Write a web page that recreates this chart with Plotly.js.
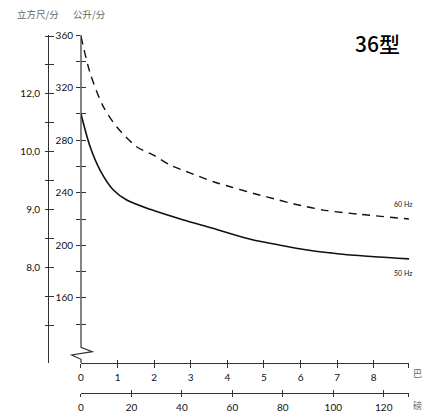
<!DOCTYPE html>
<html>
<head>
<meta charset="utf-8">
<script src="https://cdn.plot.ly/plotly-3.0.1.min.js"></script>
<style>html,body{margin:0;padding:0;background:#fff;}#chart{width:440px;height:418px;}</style>
</head>
<body>
<div id="chart"></div>
<script>
// ---- data ----
const bar60 = [0, 0.25, 0.61, 0.98, 1.52, 1.98, 2.44, 2.99, 3.62, 4.08, 4.77, 5.41, 5.82, 6.73, 7.64, 8.96];
const lpm60 = [359, 331, 305.5, 290, 275, 268.7, 261, 255, 248.4, 244.6, 239.1, 234.5, 231.5, 226.4, 223.6, 220.1];
const bar50 = [0, 0.25, 0.52, 0.885, 1.25, 1.89, 2.8, 3.6, 4.63, 5.41, 6.18, 6.82, 7.37, 9.0];
const lpm50 = [300, 275, 257.3, 242.1, 234.5, 227.4, 219.3, 213, 204.6, 200.3, 196.5, 194.3, 192.7, 189.7];

// tick labels
const barTicks = [0, 1, 2, 3, 4, 5, 6, 7, 8];
const barLabels = ['0', '1', '2', '3', '4', '5', '6', '7', '8'];
const psiTicks = [0, 20, 40, 60, 80, 100, 120, 130];
const psiLabels = ['0', '20', '40', '60', '80', '100', '120', ''];
const lpmTicks = [140, 160, 180, 200, 220, 240, 260, 280, 300, 320, 340, 360];
const lpmLabels = ['', '160', '', '200', '', '240', '', '280', '', '320', '', '360'];
const cfmTicks = [0, 1, 2, 3, 4, 5, 6, 7, 8, 9, 10];
const cfmLabels = ['', '', '8,0', '', '9,0', '', '10,0', '', '12,0', '', ''];

const psiMax = 130;
const barMax = psiMax / 14.5038;
const lpmRange = [110.56, 360];
const cfmRange = [-1.315, 10.035];

const axColor = '#333';
const xDom = [0.0914, 1];
const yDom = [0.0838, 1];

const ghost = (xa, ya, xv, yv) => ({x: [xv], y: [yv], xaxis: xa, yaxis: ya, mode: 'markers',
  marker: {opacity: 0, size: 1}, hoverinfo: 'skip', showlegend: false});

const traces = [
  {x: bar60, y: lpm60, xaxis: 'x', yaxis: 'y', mode: 'lines', cliponaxis: false,
   line: {color: '#111', width: 1.4, dash: '8px,6px', shape: 'spline', smoothing: 0.8}, hoverinfo: 'skip'},
  {x: bar50, y: lpm50, xaxis: 'x', yaxis: 'y', mode: 'lines', cliponaxis: false,
   line: {color: '#111', width: 1.6, shape: 'spline', smoothing: 0.8}, hoverinfo: 'skip'},
  // invisible anchors so that the overlaying axes are drawn
  ghost('x2', 'y2', psiTicks[0], cfmTicks[0]),
  ghost('x3', 'y3', barTicks[0], lpmTicks[0]),
  ghost('x4', 'y4', psiTicks[0], cfmTicks[0])
];

const baseAx = {showgrid: false, zeroline: false, fixedrange: true, autorange: false, tickcolor: axColor, tickwidth: 1, linecolor: axColor, linewidth: 1.2};

const layout = {
  width: 440, height: 418,
  margin: {l: 48, r: 31, t: 35, b: 25, pad: 0},
  paper_bgcolor: '#fff', plot_bgcolor: 'rgba(0,0,0,0)',
  showlegend: false,
  font: {family: 'Lato, "Noto Sans", sans-serif', size: 10, color: '#111'},
  xaxis: Object.assign({}, baseAx, {domain: xDom, anchor: 'y', range: [0, barMax], tickmode: 'array',
    tickvals: barTicks.concat([barMax]), ticktext: barLabels.concat(['']), ticks: 'outside', ticklen: 4,
    showline: true, ticklabelstandoff: 1}),
  xaxis3: Object.assign({}, baseAx, {domain: xDom, anchor: 'y', overlaying: 'x', range: [0, barMax], tickmode: 'array',
    tickvals: barTicks.concat([barMax]), ticks: 'inside', ticklen: 3, showticklabels: false, showline: false}),
  xaxis2: Object.assign({}, baseAx, {domain: xDom, anchor: 'free', position: 0, overlaying: 'x', range: [0, psiMax], tickmode: 'array',
    tickvals: psiTicks, ticktext: psiLabels, ticks: 'outside', ticklen: 3, showline: true, ticklabelstandoff: 2}),
  xaxis4: Object.assign({}, baseAx, {domain: xDom, anchor: 'free', position: 0, overlaying: 'x', range: [0, psiMax], tickmode: 'array',
    tickvals: psiTicks, ticks: 'inside', ticklen: 3, showticklabels: false, showline: false}),
  yaxis: Object.assign({}, baseAx, {domain: yDom, anchor: 'x', range: lpmRange, tickmode: 'array',
    tickvals: lpmTicks, ticktext: lpmLabels, ticks: 'outside', ticklen: 4, showline: false, ticklabelstandoff: 1}),
  yaxis3: Object.assign({}, baseAx, {domain: yDom, anchor: 'x', overlaying: 'y', range: lpmRange, tickmode: 'array',
    tickvals: lpmTicks, ticks: 'inside', ticklen: 5, showticklabels: false, showline: false}),
  yaxis2: Object.assign({}, baseAx, {domain: yDom, anchor: 'free', position: 0, overlaying: 'y', range: cfmRange, tickmode: 'array',
    tickvals: cfmTicks, ticktext: cfmLabels, ticks: 'outside', ticklen: 3, showline: true, ticklabelstandoff: 3}),
  yaxis4: Object.assign({}, baseAx, {domain: yDom, anchor: 'free', position: 0, overlaying: 'y', range: cfmRange, tickmode: 'array',
    tickvals: cfmTicks, ticks: 'inside', ticklen: 5, showticklabels: false, showline: false}),
  shapes: [
    {type: 'path', xref: 'paper', yref: 'paper',
     path: 'M 0.0914,1 L 0.0914,0.1277 L 0.1227,0.1154 L 0.0657,0.1061 L 0.0914,0.0941 L 0.0914,0.0838',
     line: {color: axColor, width: 1.2}}
  ],
  annotations: [
    {text: '36型', xref: 'paper', yref: 'paper', x: 0.9114, y: 0.9777, xanchor: 'center', yanchor: 'middle', showarrow: false,
     font: {family: '"Liberation Sans Narrow", "Noto Sans CJK SC", sans-serif', size: 21, color: '#000', weight: 500}},
    {text: '立方尺/分', xref: 'paper', yref: 'paper', x: -0.0277, y: 1.0595, xanchor: 'center', yanchor: 'middle', showarrow: false,
     font: {family: '"Noto Sans CJK SC", sans-serif', size: 9.5, color: '#666'}},
    {text: '公升/分', xref: 'paper', yref: 'paper', x: 0.1163, y: 1.0595, xanchor: 'center', yanchor: 'middle', showarrow: false,
     font: {family: '"Noto Sans CJK SC", sans-serif', size: 9.5, color: '#666'}},
    {text: '巴', xref: 'paper', yref: 'paper', x: 1.0235, y: 0.0531, xanchor: 'center', yanchor: 'middle', showarrow: false,
     font: {family: '"Noto Sans CJK SC", sans-serif', size: 9, color: '#666'}},
    {text: '磅', xref: 'paper', yref: 'paper', x: 1.0235, y: -0.0363, xanchor: 'center', yanchor: 'middle', showarrow: false,
     font: {family: '"Noto Sans CJK SC", sans-serif', size: 9, color: '#666'}},
    {text: '60 Hz', xref: 'paper', yref: 'paper', x: 0.9834, y: 0.5279, xanchor: 'center', yanchor: 'middle', showarrow: false,
     font: {family: 'Lato, sans-serif', size: 7, color: '#111'}},
    {text: '50 Hz', xref: 'paper', yref: 'paper', x: 0.9834, y: 0.336, xanchor: 'center', yanchor: 'middle', showarrow: false,
     font: {family: 'Lato, sans-serif', size: 7, color: '#111'}}
  ]
};

Plotly.newPlot('chart', traces, layout, {staticPlot: true, displayModeBar: false});
</script>
</body>
</html>
